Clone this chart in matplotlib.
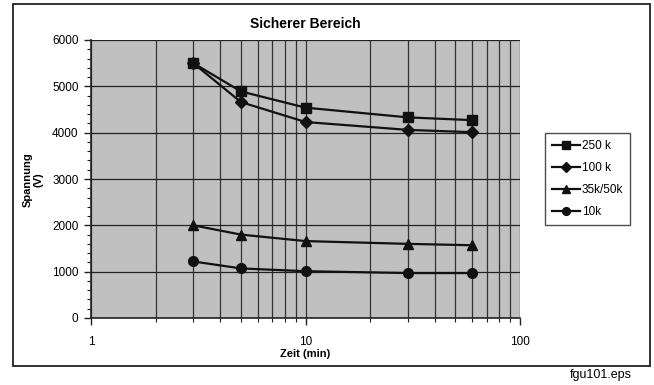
import numpy as np
import matplotlib.pyplot as plt
from matplotlib.patches import Rectangle
from matplotlib.ticker import FixedLocator, NullFormatter, MultipleLocator

plt.rcParams['font.family'] = ['Liberation Sans', 'DejaVu Sans']

zeit = [3, 5, 10, 30, 60]
v_250k = [5500, 4890, 4540, 4330, 4270]
v_100k = [5500, 4660, 4230, 4060, 4010]
v_35k = [2000, 1800, 1660, 1600, 1570]
v_10k = [1220, 1070, 1010, 970, 970]
labels = ["250 k", "100 k", "35k/50k", "10k"]

fig = plt.figure(figsize=(6.54, 3.85), dpi=100)
ax = fig.add_axes([91/654, 1-318/385, (520-91)/654, (318-40)/385])
ax.set_facecolor('#c0c0c0')

# outer chart frame
fig.patches.append(Rectangle((13/654, 1-366/385), (650-13)/654, (366-4)/385,
                             transform=fig.transFigure, fill=False,
                             edgecolor='#222222', linewidth=1.3))

series = [v_250k, v_100k, v_35k, v_10k]
markers = ['s', 'D', '^', 'o']
msizes = [7.5, 6, 7.5, 7]
for vals, m, ms, lab in zip(series, markers, msizes, labels):
    ax.plot(zeit, vals, color='#111111', lw=1.6, marker=m, ms=ms,
            mfc='#111111', mec='#111111', label=lab, zorder=3)

ax.set_xscale('log')
ax.set_xlim(1, 100)
ax.set_ylim(0, 6000)
ax.xaxis.set_major_locator(FixedLocator([1, 10, 100]))
ax.xaxis.set_minor_locator(FixedLocator([2, 3, 4, 5, 6, 7, 8, 9,
                                         20, 30, 40, 50, 60, 70, 80, 90]))
ax.xaxis.set_minor_formatter(NullFormatter())
ax.set_xticklabels(['1', '10', '100'])
ax.yaxis.set_major_locator(MultipleLocator(1000))
ax.yaxis.set_minor_locator(MultipleLocator(200))

ax.grid(which='major', axis='y', color='#222222', lw=0.9)
ax.grid(which='both', axis='x', color='#333333', lw=0.9)
ax.set_axisbelow(True)

for s in ['top', 'right']:
    ax.spines[s].set_visible(False)
for s in ['left', 'bottom']:
    ax.spines[s].set_color('#222222')
    ax.spines[s].set_linewidth(1.2)

ax.tick_params(axis='both', which='major', direction='out', length=5,
               width=1, color='#222222', labelsize=8.5)
ax.tick_params(axis='x', which='major', pad=8)
ax.tick_params(axis='y', which='major', pad=4)
ax.tick_params(axis='both', which='minor', direction='out', length=3,
               width=0.8, color='#222222')

ax.set_title('Sicherer Bereich', fontsize=10, fontweight='bold', pad=9)
ax.set_xlabel('Zeit (min)', fontsize=8, fontweight='bold', labelpad=1)
fig.text(33/654, 1-180/385, 'Spannung\n(V)', rotation=90, fontsize=8,
         fontweight='bold', ha='center', va='center', linespacing=1.1)

leg = fig.legend(loc='upper left', bbox_to_anchor=(545/654, 1-133/385),
                 frameon=True, fancybox=False, fontsize=8.5, handlelength=2.4,
                 labelspacing=0.85, borderpad=0.6, handletextpad=0.1,
                 borderaxespad=0, markerscale=0.8)
leg.get_frame().set_edgecolor('#222222')
leg.get_frame().set_linewidth(1)

fig.text(601/654, 1-375/385, 'fgu101.eps', fontsize=9, ha='center', va='center')

fig.savefig('out.png', dpi=100)
